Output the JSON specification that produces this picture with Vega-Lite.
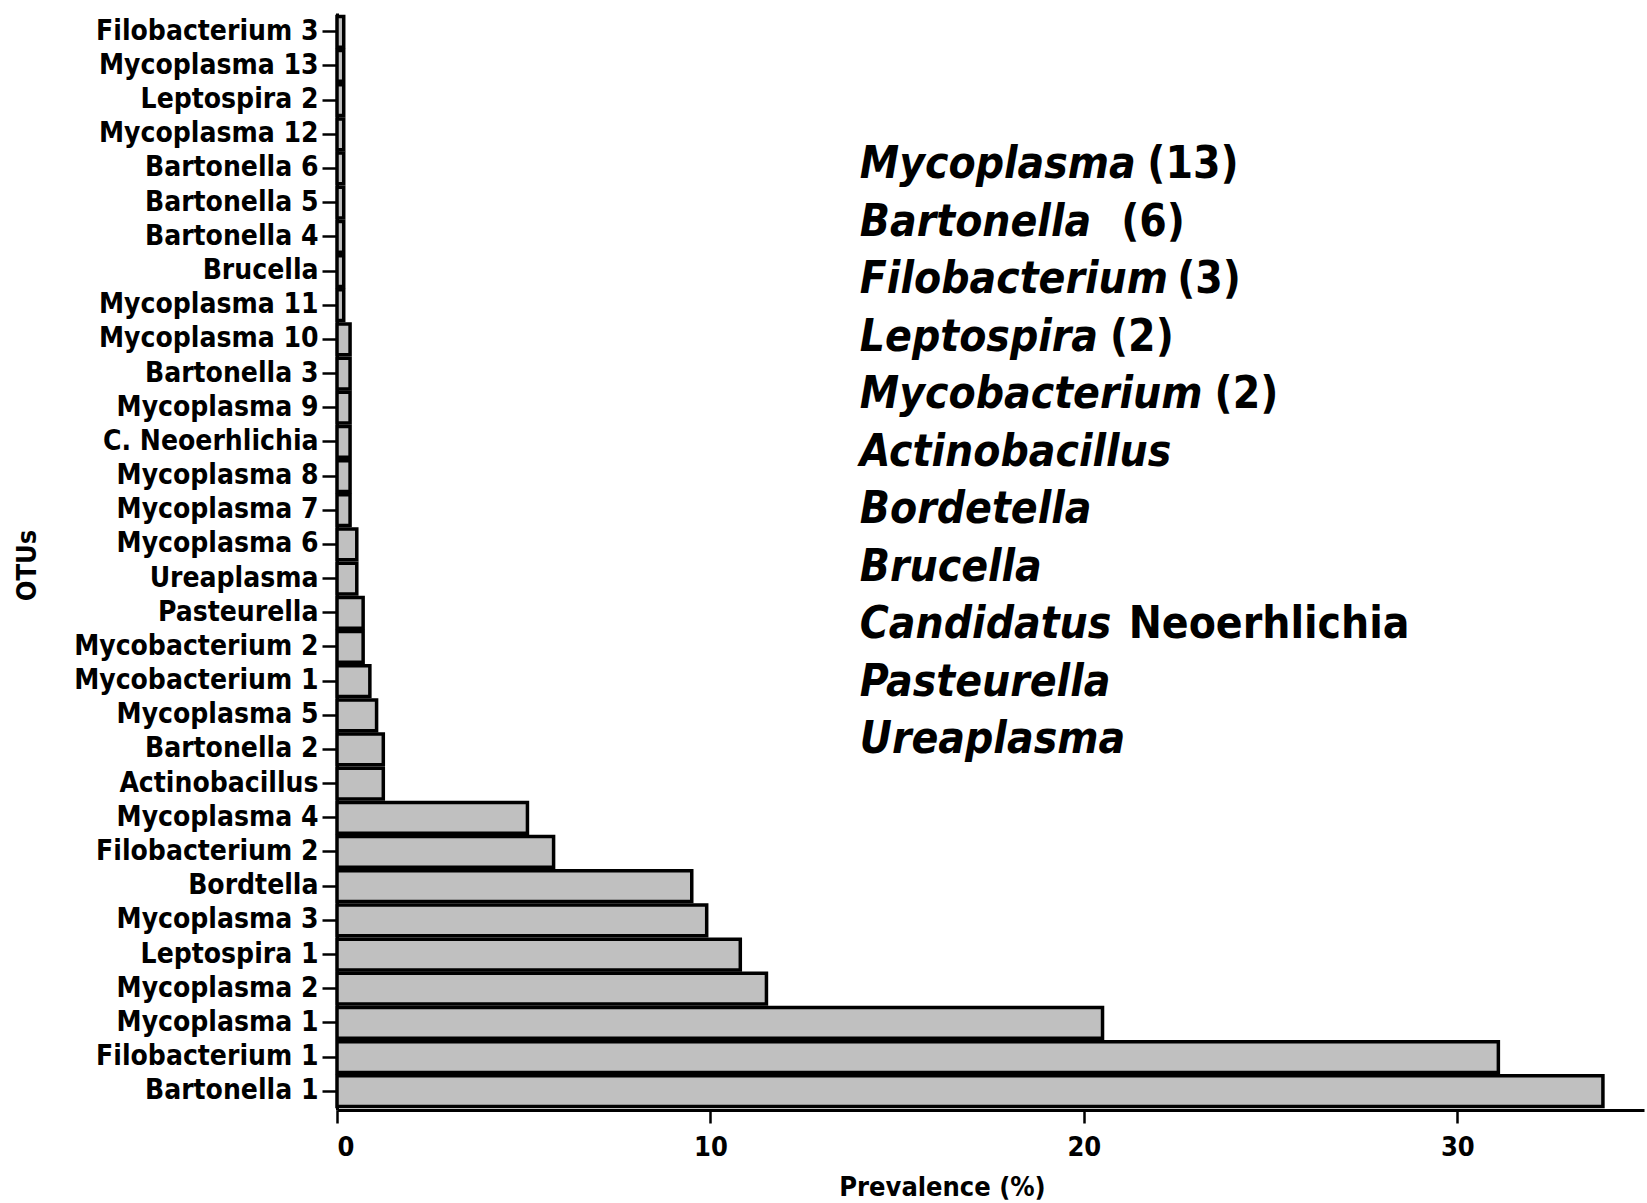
{
  "$schema": "https://vega.github.io/schema/vega-lite/v6.json",
  "width": 1307,
  "height": 1097,
  "autosize": {"type": "none"},
  "padding": {"left": 337, "top": 13, "right": 3, "bottom": 93},
  "background": "white",
  "config": {"view": {"stroke": null}, "font": "DejaVu Sans Condensed"},
  "layer": [
    {
      "data": {
        "values": [
          {"otu": "Filobacterium 3", "prevalence": 0.18},
          {"otu": "Mycoplasma 13", "prevalence": 0.18},
          {"otu": "Leptospira 2", "prevalence": 0.18},
          {"otu": "Mycoplasma 12", "prevalence": 0.18},
          {"otu": "Bartonella 6", "prevalence": 0.18},
          {"otu": "Bartonella 5", "prevalence": 0.18},
          {"otu": "Bartonella 4", "prevalence": 0.18},
          {"otu": "Brucella", "prevalence": 0.18},
          {"otu": "Mycoplasma 11", "prevalence": 0.18},
          {"otu": "Mycoplasma 10", "prevalence": 0.35},
          {"otu": "Bartonella 3", "prevalence": 0.35},
          {"otu": "Mycoplasma 9", "prevalence": 0.35},
          {"otu": "C. Neoerhlichia", "prevalence": 0.35},
          {"otu": "Mycoplasma 8", "prevalence": 0.35},
          {"otu": "Mycoplasma 7", "prevalence": 0.35},
          {"otu": "Mycoplasma 6", "prevalence": 0.53},
          {"otu": "Ureaplasma", "prevalence": 0.53},
          {"otu": "Pasteurella", "prevalence": 0.7},
          {"otu": "Mycobacterium 2", "prevalence": 0.7},
          {"otu": "Mycobacterium 1", "prevalence": 0.88},
          {"otu": "Mycoplasma 5", "prevalence": 1.06},
          {"otu": "Bartonella 2", "prevalence": 1.24},
          {"otu": "Actinobacillus", "prevalence": 1.24},
          {"otu": "Mycoplasma 4", "prevalence": 5.1},
          {"otu": "Filobacterium 2", "prevalence": 5.8},
          {"otu": "Bordtella", "prevalence": 9.5},
          {"otu": "Mycoplasma 3", "prevalence": 9.9},
          {"otu": "Leptospira 1", "prevalence": 10.8},
          {"otu": "Mycoplasma 2", "prevalence": 11.5},
          {"otu": "Mycoplasma 1", "prevalence": 20.5},
          {"otu": "Filobacterium 1", "prevalence": 31.1},
          {"otu": "Bartonella 1", "prevalence": 33.9}
        ]
      },
      "mark": {"type": "bar", "fill": "#c0c0c0", "stroke": "black", "strokeWidth": 3.5},
      "encoding": {
        "y": {
          "field": "otu", "type": "nominal", "sort": null,
          "scale": {"paddingInner": 0.1, "paddingOuter": 0.1},
          "axis": {
            "title": "OTUs", "titleFontSize": 27, "titleFontWeight": "bold", "titleColor": "black",
            "titleX": -310, "titleY": 552, "titleAngle": 270, "titleAlign": "center", "titleBaseline": "middle",
            "labelFontSize": 28, "labelFontWeight": "bold", "labelColor": "black", "labelPadding": 4, "labelLimit": 400,
            "tickSize": 15, "tickWidth": 2.5, "tickColor": "black",
            "domainColor": "black", "domainWidth": 3, "grid": false
          }
        },
        "x": {
          "field": "prevalence", "type": "quantitative",
          "scale": {"domain": [0, 35], "nice": false},
          "axis": {
            "title": "Prevalence (%)", "titleFontSize": 27, "titleFontWeight": "bold", "titleColor": "black",
            "titleX": 605, "titleY": 77, "titleAlign": "center", "titleBaseline": "middle",
            "values": [0, 10, 20, 30],
            "labelFontSize": 27, "labelFontWeight": "bold", "labelColor": "black", "labelPadding": 11,
            "tickSize": 13, "tickWidth": 2.5, "tickColor": "black",
            "domainColor": "black", "domainWidth": 3, "grid": false
          }
        }
      }
    },
    {
      "data": {
        "values": [
          {"line": 1, "genus": "Mycoplasma"},
          {"line": 2, "genus": "Bartonella"},
          {"line": 3, "genus": "Filobacterium"},
          {"line": 4, "genus": "Leptospira"},
          {"line": 5, "genus": "Mycobacterium"},
          {"line": 6, "genus": "Actinobacillus"},
          {"line": 7, "genus": "Bordetella"},
          {"line": 8, "genus": "Brucella"},
          {"line": 9, "genus": "Candidatus"},
          {"line": 10, "genus": "Pasteurella"},
          {"line": 11, "genus": "Ureaplasma"}
        ]
      },
      "mark": {"type": "text", "align": "left", "baseline": "middle", "fontSize": 44, "fontWeight": "bold", "fontStyle": "italic", "color": "black"},
      "encoding": {
        "x": {"datum": 14.0, "type": "quantitative"},
        "y": {"field": "line", "type": "quantitative", "scale": {"domain": [-1.64, 17.42], "reverse": true, "nice": false, "zero": false}, "axis": null},
        "text": {"field": "genus"}
      }
    },
    {
      "data": {
        "values": [
          {"line": 1, "note": "(13)", "after": 21.7},
          {"line": 2, "note": "(6)", "after": 21.0},
          {"line": 3, "note": "(3)", "after": 22.5},
          {"line": 4, "note": "(2)", "after": 20.7},
          {"line": 5, "note": "(2)", "after": 23.5},
          {"line": 9, "note": "Neoerhlichia", "after": 21.2}
        ]
      },
      "mark": {"type": "text", "align": "left", "baseline": "middle", "fontSize": 44, "fontWeight": "bold", "fontStyle": "normal", "color": "black"},
      "encoding": {
        "x": {"field": "after", "type": "quantitative"},
        "y": {"field": "line", "type": "quantitative", "scale": {"domain": [-1.64, 17.42], "reverse": true, "nice": false, "zero": false}, "axis": null},
        "text": {"field": "note"}
      }
    }
  ],
  "resolve": {"scale": {"y": "independent"}}
}
